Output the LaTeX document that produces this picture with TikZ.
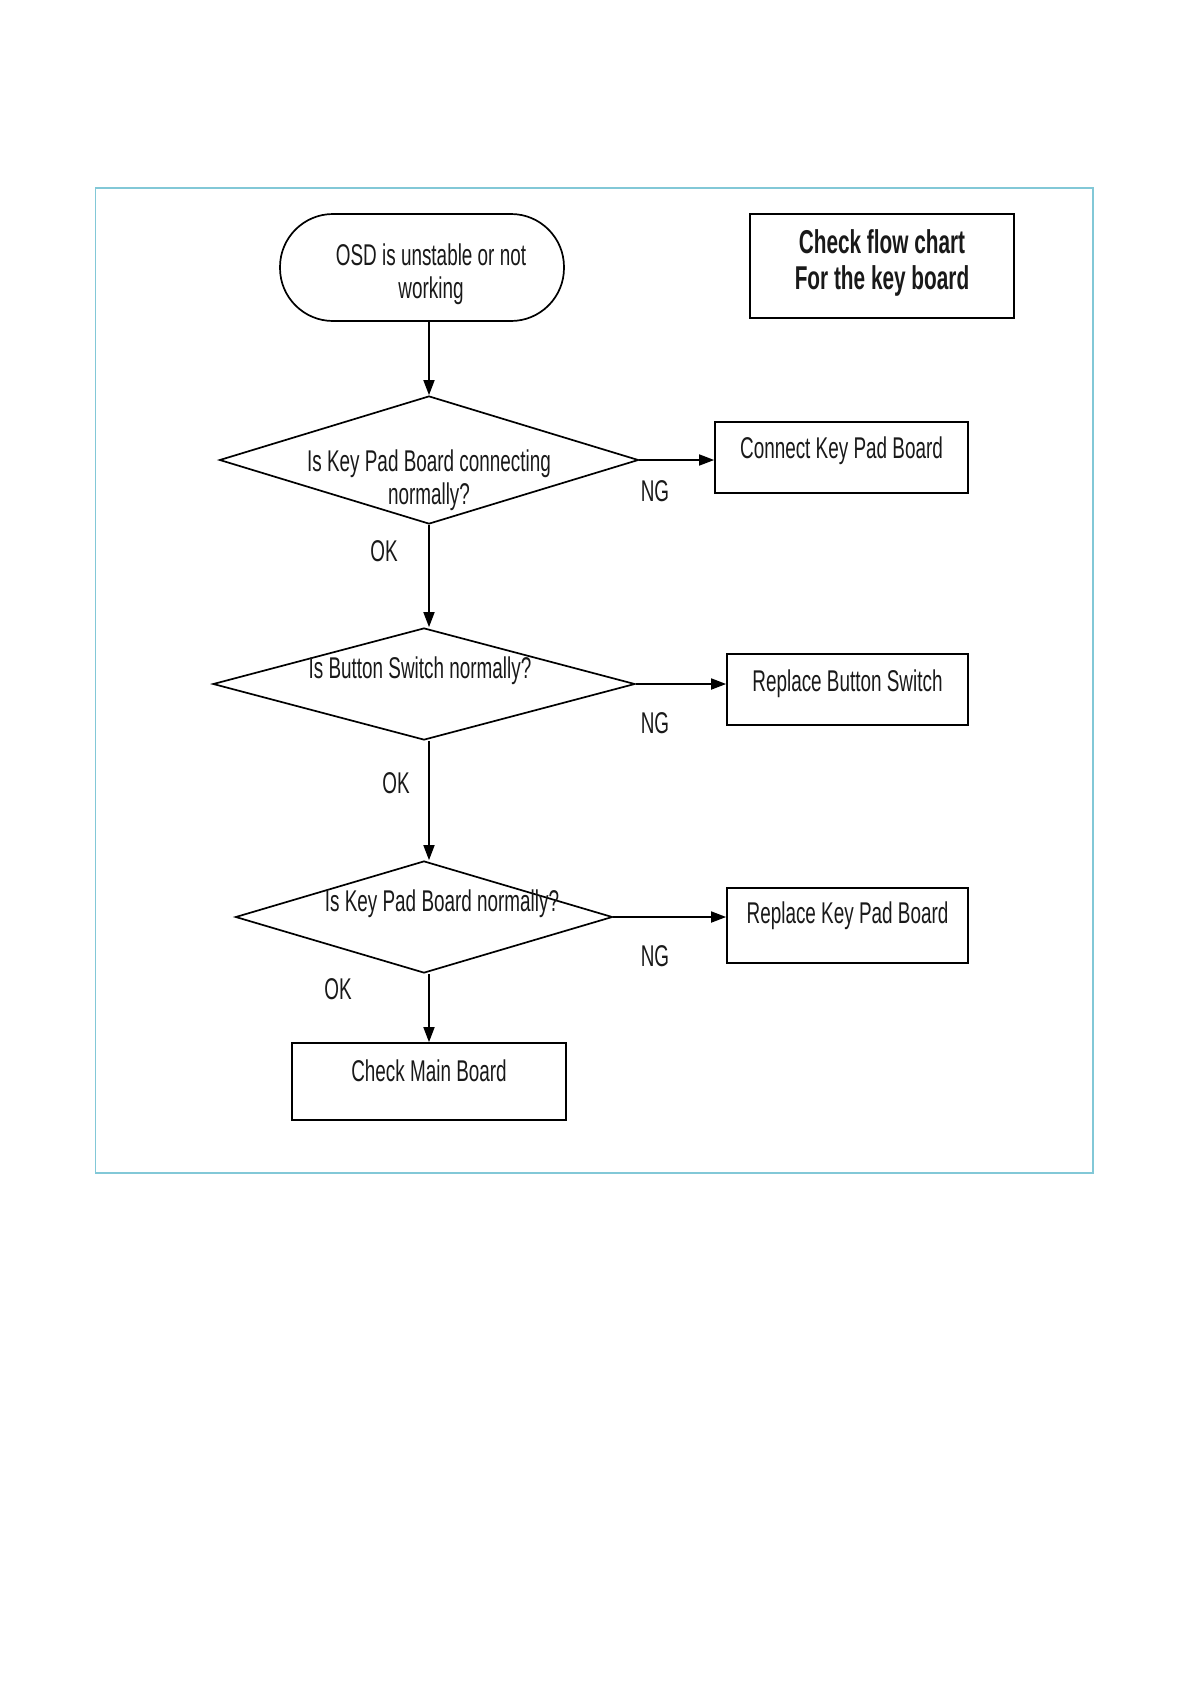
\documentclass[tikz,border=0pt]{standalone}
\usepackage{fontspec}
\setmainfont[FakeStretch=0.63]{Liberation Sans}
\usepackage{xcolor}
\usetikzlibrary{arrows.meta,positioning,shapes.geometric}
\definecolor{framecyan}{RGB}{130,200,215}

\begin{document}
\begin{tikzpicture}[x=1pt,y=-1pt,>={Triangle[length=15pt,width=11pt]},line width=1.7pt,
  every node/.style={font=\fontsize{30}{33}\selectfont,align=center,text=black!90},
  startbox/.style={draw,rectangle,rounded corners=53pt,minimum width=284pt,minimum height=107pt,inner sep=0pt},
  decision/.style={draw,diamond,inner sep=0pt},
  actbox/.style={draw,rectangle,inner sep=0pt},
  txt/.style={inner sep=0pt}]
\useasboundingbox (0,0) rectangle (1190,1684);
\draw[framecyan,line width=1.5pt] (95.5,188) rectangle (1093,1173);
\node[startbox,label={[txt,shift={(9pt,-7pt)}]center:{OSD is unstable or not\\working}}] (start) at (422,267.5) {};
\node[actbox,minimum width=264pt,minimum height=104pt,
  label={[txt,font=\fontsize{33}{36}\selectfont\bfseries,yshift=3pt]center:{Check flow chart\\For the key board}}] (title) at (882,266) {};
\node[decision,minimum width=419pt,minimum height=128pt,
  label={[txt,yshift=-20pt]center:{Is Key Pad Board connecting\\normally?}}] (d1) at (429,460) {};
\node[actbox,minimum width=253pt,minimum height=71pt,
  label={[txt,yshift=7pt]center:Connect Key Pad Board}] (b1) at (841.5,457.5) {};
\node[decision,minimum width=422pt,minimum height=112pt,
  label={[txt,shift={(-4pt,13pt)}]center:Is Button Switch normally?}] (d2) at (424,684) {};
\node[actbox,minimum width=241pt,minimum height=71pt,
  label={[txt,yshift=5.5pt]center:Replace Button Switch}] (b2) at (847.5,689.5) {};
\node[decision,minimum width=377pt,minimum height=112pt,
  label={[txt,shift={(18pt,13pt)}]center:Is Key Pad Board normally?}] (d3) at (424,917) {};
\node[actbox,minimum width=241pt,minimum height=75pt,
  label={[txt,yshift=9.5pt]center:Replace Key Pad Board}] (b3) at (847.5,925.5) {};
\node[actbox,minimum width=274pt,minimum height=77pt,
  label={[txt,yshift=10.5pt]center:Check Main Board}] (b4) at (429,1081.5) {};
% branch labels
\node (ng1) at (655,491) {NG};
\node (ok1) at (384,551) {OK};
\node (ng2) at (655,723) {NG};
\node (ok2) at (396,783) {OK};
\node (ng3) at (655,956) {NG};
\node (ok3) at (338,989) {OK};
% connectors
\draw[->] (start.south -| d1.north) -- (d1.north);
\draw[->] (d1.south) -- (d1.south |- d2.north);
\draw[->] (d1.south |- d2.south) -- (d1.south |- d3.north);
\draw[->] (d1.south |- d3.south) -- (b4.north);
\draw[->] (d1.east) -- (d1.east -| b1.west);
\draw[->] (d2.east) -- (d2.east -| b2.west);
\draw[->] (d3.east) -- (d3.east -| b3.west);
\end{tikzpicture}
\end{document}
